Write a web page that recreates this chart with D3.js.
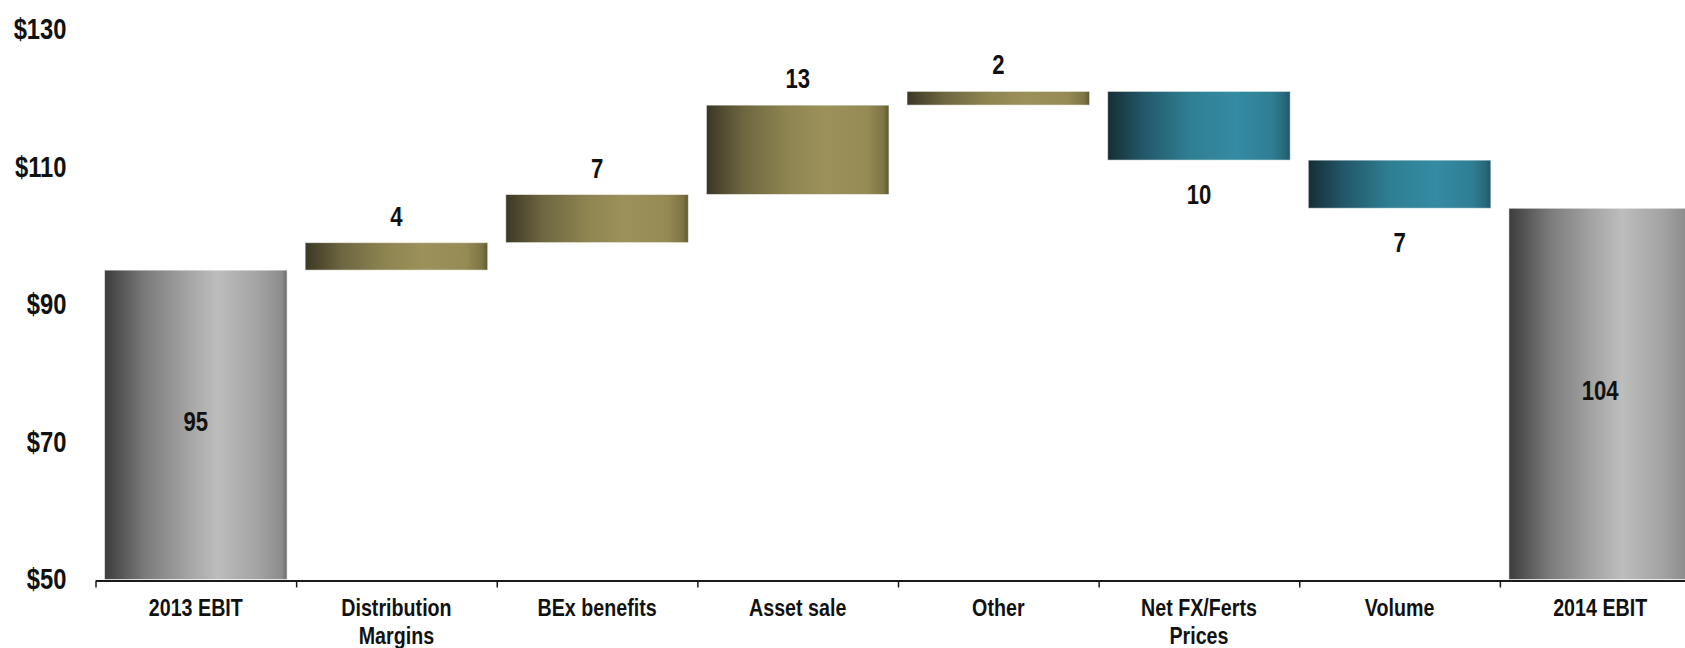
<!DOCTYPE html>
<html>
<head>
<meta charset="utf-8">
<script src="https://cdn.jsdelivr.net/npm/d3@7"></script>
<style>
  html, body { margin: 0; padding: 0; background: #fff; overflow: hidden; }
  svg { display: block; }
</style>
</head>
<body>
<svg id="chart" width="1685" height="648"></svg>
<script>
// EBIT bridge, 2013 -> 2014
const categories = ["2013 EBIT", "Distribution Margins", "BEx benefits", "Asset sale",
                    "Other", "Net FX/Ferts Prices", "Volume", "2014 EBIT"];
const categoryLines = [["2013 EBIT"], ["Distribution", "Margins"], ["BEx benefits"], ["Asset sale"],
                       ["Other"], ["Net FX/Ferts", "Prices"], ["Volume"], ["2014 EBIT"]];
const startValue = 95;
const changes = [4, 7, 13, 2, -10, -7];
const endValue = 104;
const yTicks = [50, 70, 90, 110, 130];

const W = 1685, H = 648;
const margin = { left: 95.5, right: -15.5, top: 29.5, bottom: 68.5 };
const svg = d3.select("#chart");

// Condensed face when installed; otherwise squeeze the regular face horizontally
const probe = svg.append("text").style("font-size", "40px").text("Distribution Margins");
probe.style("font-family", "'Liberation Sans Narrow'");
const wNarrow = probe.node().getComputedTextLength();
probe.style("font-family", "'Liberation Sans'");
const wRegular = probe.node().getComputedTextLength();
probe.remove();
const hasNarrow = wNarrow < wRegular * 0.95;
const FONT = hasNarrow ? "'Liberation Sans Narrow', 'Arial Narrow', sans-serif" : "'Liberation Sans', Arial, sans-serif";
const SX = hasNarrow ? 1 : 0.82;

// Build the waterfall segments
const rows = [];
rows.push({ cat: categories[0], lo: 50, hi: startValue, kind: "total", value: startValue });
let run = startValue;
changes.forEach((c, i) => {
  const a = run, b = run + c;
  rows.push({ cat: categories[i + 1], lo: Math.min(a, b), hi: Math.max(a, b),
              kind: c >= 0 ? "up" : "down", value: Math.abs(c) });
  run = b;
});
rows.push({ cat: categories[categories.length - 1], lo: 50, hi: endValue, kind: "total", value: endValue });

const x = d3.scaleBand()
  .domain(categories)
  .range([margin.left, W - margin.right])
  .paddingInner(0.09)
  .paddingOuter(0.045);

const y = d3.scaleLinear()
  .domain([yTicks[0], yTicks[yTicks.length - 1]])
  .range([H - margin.bottom, margin.top]);

// Gradients
const defs = svg.append("defs");
const gradients = {
  total: [[0, "#3c3c3c"], [0.22, "#7a7a7a"], [0.45, "#a3a3a3"], [0.62, "#bdbdbd"], [0.85, "#a2a2a2"], [0.97, "#8c8c8c"], [1, "#6e6e6e"]],
  up:    [[0, "#3b3724"], [0.2, "#6d6640"], [0.45, "#8f8552"], [0.65, "#9c9159"], [0.88, "#968b55"], [0.97, "#7d7444"], [1, "#5f5833"]],
  down:  [[0, "#162e36"], [0.2, "#23586a"], [0.45, "#2f7f93"], [0.7, "#348ba3"], [0.9, "#2f7e94"], [0.97, "#27687a"], [1, "#1f5564"]]
};
Object.entries(gradients).forEach(([k, stops]) => {
  const g = defs.append("linearGradient").attr("id", "grad-" + k)
    .attr("x1", "0").attr("x2", "1").attr("y1", "0").attr("y2", "0");
  stops.forEach(([o, c]) => g.append("stop").attr("offset", o).attr("stop-color", c));
});

// Bars
svg.append("g").selectAll("rect").data(rows).join("rect")
  .attr("x", d => x(d.cat))
  .attr("width", x.bandwidth())
  .attr("y", d => y(d.hi))
  .attr("height", d => y(d.lo) - y(d.hi))
  .attr("fill", d => "url(#grad-" + d.kind + ")")
  .attr("stroke", "rgba(255,255,255,0.55)")
  .attr("stroke-width", 1);

// Text helper: places a (possibly squeezed) label at x, y
function label(parent, tx, ty, str, size, weight) {
  parent.append("text")
    .attr("transform", `translate(${tx},${ty}) scale(${SX},1)`)
    .attr("text-anchor", "middle")
    .style("font-family", FONT)
    .style("font-size", size + "px")
    .style("font-weight", weight)
    .style("fill", "#111")
    .text(str);
}

// Value labels
const labels = svg.append("g");
rows.forEach(d => {
  const cx = x(d.cat) + x.bandwidth() / 2;
  if (d.kind === "total") {
    label(labels, cx, (y(d.lo) + y(d.hi)) / 2 + 6, d.value, 27, "bold");
  } else if (d.kind === "up") {
    label(labels, cx, y(d.hi) - 17, d.value, 27, "bold");
  } else {
    label(labels, cx, y(d.lo) + 44, d.value, 27, "bold");
  }
});

// X axis: baseline with ticks at the category boundaries
const xEdge = d3.scaleLinear().domain([0, categories.length]).range(x.range());
svg.append("g")
  .attr("transform", `translate(0,${y(yTicks[0]) + 1})`)
  .call(d3.axisBottom(xEdge).tickValues(d3.range(categories.length + 1)).tickFormat("").tickSize(7).tickSizeOuter(0))
  .call(g => g.select(".domain").attr("stroke", "#1a1a1a").attr("stroke-width", 2.2))
  .call(g => g.selectAll(".tick line").attr("stroke", "#1a1a1a").attr("stroke-width", 1.5));

// Category labels
const xl = svg.append("g");
categoryLines.forEach((lines, i) => {
  const cx = x(categories[i]) + x.bandwidth() / 2;
  lines.forEach((ln, j) => label(xl, cx, 616 + j * 28, ln, 24, "bold"));
});

// Y axis labels only
svg.append("g")
  .attr("transform", `translate(${margin.left},0)`)
  .call(d3.axisLeft(y).tickValues(yTicks).tickFormat(d => "$" + d).tickSize(0).tickPadding(0))
  .call(g => g.select(".domain").remove())
  .call(g => g.selectAll(".tick text")
    .attr("x", null).attr("dy", null)
    .attr("transform", `translate(-29,9) scale(${SX},1)`)
    .style("font-family", FONT)
    .style("font-size", "29px")
    .style("font-weight", "bold")
    .style("fill", "#111"));
</script>
</body>
</html>
